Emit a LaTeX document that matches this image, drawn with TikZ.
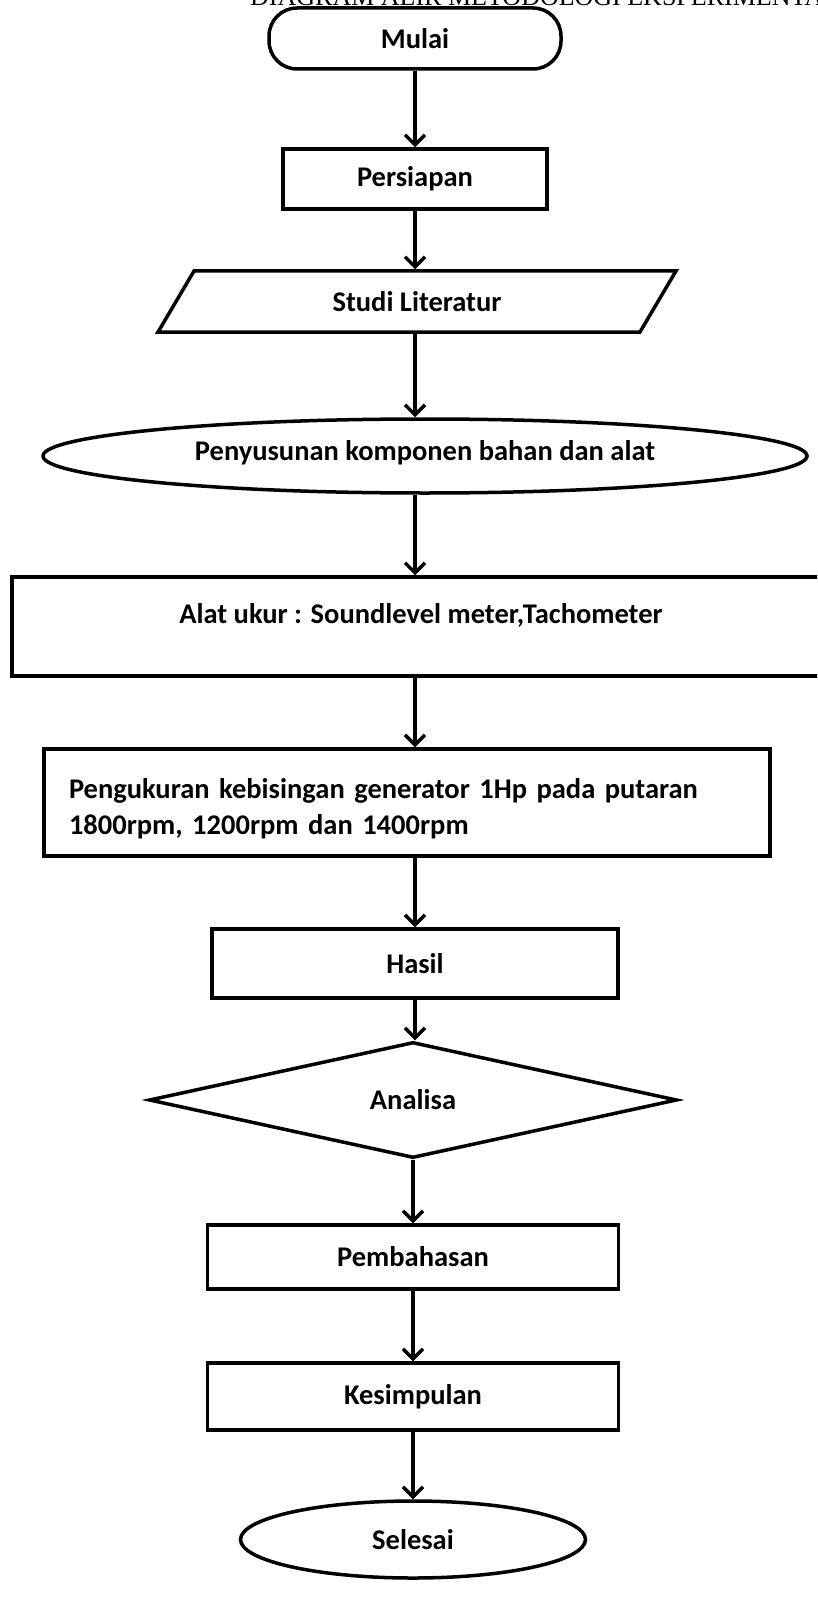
\documentclass[tikz,border=0pt]{standalone}
\usepackage{fontspec}
\setmainfont{Carlito}
\newfontfamily\titlefont{Liberation Serif}
\usetikzlibrary{shapes.geometric,arrows.meta}

\tikzset{
  stepbox/.style={draw, line width=3.5pt, rectangle, inner sep=0pt},
  roundbox/.style={draw, line width=3.5pt, ellipse, inner sep=0pt},
  flow/.style={line width=3.5pt, -{Straight Barb[length=10pt,width=20pt]}},
}

\begin{document}
\begin{tikzpicture}[x=1pt,y=-1pt, font=\fontsize{28.5}{36.5}\selectfont\bfseries]
  \useasboundingbox (0,0) rectangle (817,1602);
  \clip (0,0) rectangle (817,1602);
  % judul (terpotong di atas)
  \node[anchor=base west, inner sep=0pt, font=\titlefont\fontsize{26}{30}\selectfont] (judul) at (250,5.5) {DIAGRAM ALIR METODOLOGI EKSPERIMENTAL};
  % langkah-langkah
  \node[stepbox, rounded corners=28pt, minimum width=292pt, minimum height=61pt] (mulai) at (415,38.5) {Mulai};
  \node[stepbox, minimum width=264pt, minimum height=60pt] (persiapan) at (415,179) {Persiapan};
  \node[draw, line width=3.5pt, trapezium, trapezium left angle=56, trapezium right angle=124, trapezium stretches=true, inner sep=0pt, minimum width=518pt, minimum height=61pt] (studi) at (417,301.5) {Studi Literatur};
  \node[roundbox, minimum width=764pt, minimum height=74pt] (penyusunan) at (425,456) {\raisebox{12pt}{Penyusunan komponen bahan dan alat}};
  \node[stepbox, minimum width=818pt, minimum height=99pt] (alat) at (421,626.5) {\raisebox{27pt}{Alat ukur : Soundlevel meter,Tachometer}};
  \node[stepbox, minimum height=107pt, inner xsep=25pt, text width=676pt, align=left] (pengukuran) at (407,802.5) {\rule{0pt}{32pt}Pengukuran kebisingan generator 1Hp pada putaran\\1800rpm, 1200rpm dan 1400rpm};
  \node[stepbox, minimum width=406pt, minimum height=69pt] (hasil) at (415,963.5) {Hasil};
  \node[draw, line width=3.5pt, diamond, inner sep=0pt, minimum width=528pt, minimum height=116pt] (analisa) at (413,1100) {Analisa};
  \node[stepbox, minimum width=411pt, minimum height=64pt] (pembahasan) at (413,1257) {Pembahasan};
  \node[stepbox, minimum width=411pt, minimum height=67pt] (kesimpulan) at (413,1396.5) {Kesimpulan};
  \node[roundbox, minimum width=345pt, minimum height=77pt] (selesai) at (413,1539.5) {Selesai};
  % panah
  \draw[flow] (mulai) -- (persiapan);
  \draw[flow] (persiapan) -- (persiapan |- studi.north);
  \draw[flow] (persiapan |- studi.south) -- (persiapan |- penyusunan.north);
  \draw[flow] (persiapan |- penyusunan.south) -- (persiapan |- alat.north);
  \draw[flow] (persiapan |- alat.south) -- (persiapan |- pengukuran.north);
  \draw[flow] (persiapan |- pengukuran.south) -- (persiapan |- hasil.north);
  \draw[flow] (hasil) -- (hasil |- analisa.north);
  \draw[flow] (analisa) -- (pembahasan);
  \draw[flow] (pembahasan) -- (kesimpulan);
  \draw[flow] (kesimpulan) -- (selesai);
\end{tikzpicture}
\end{document}
